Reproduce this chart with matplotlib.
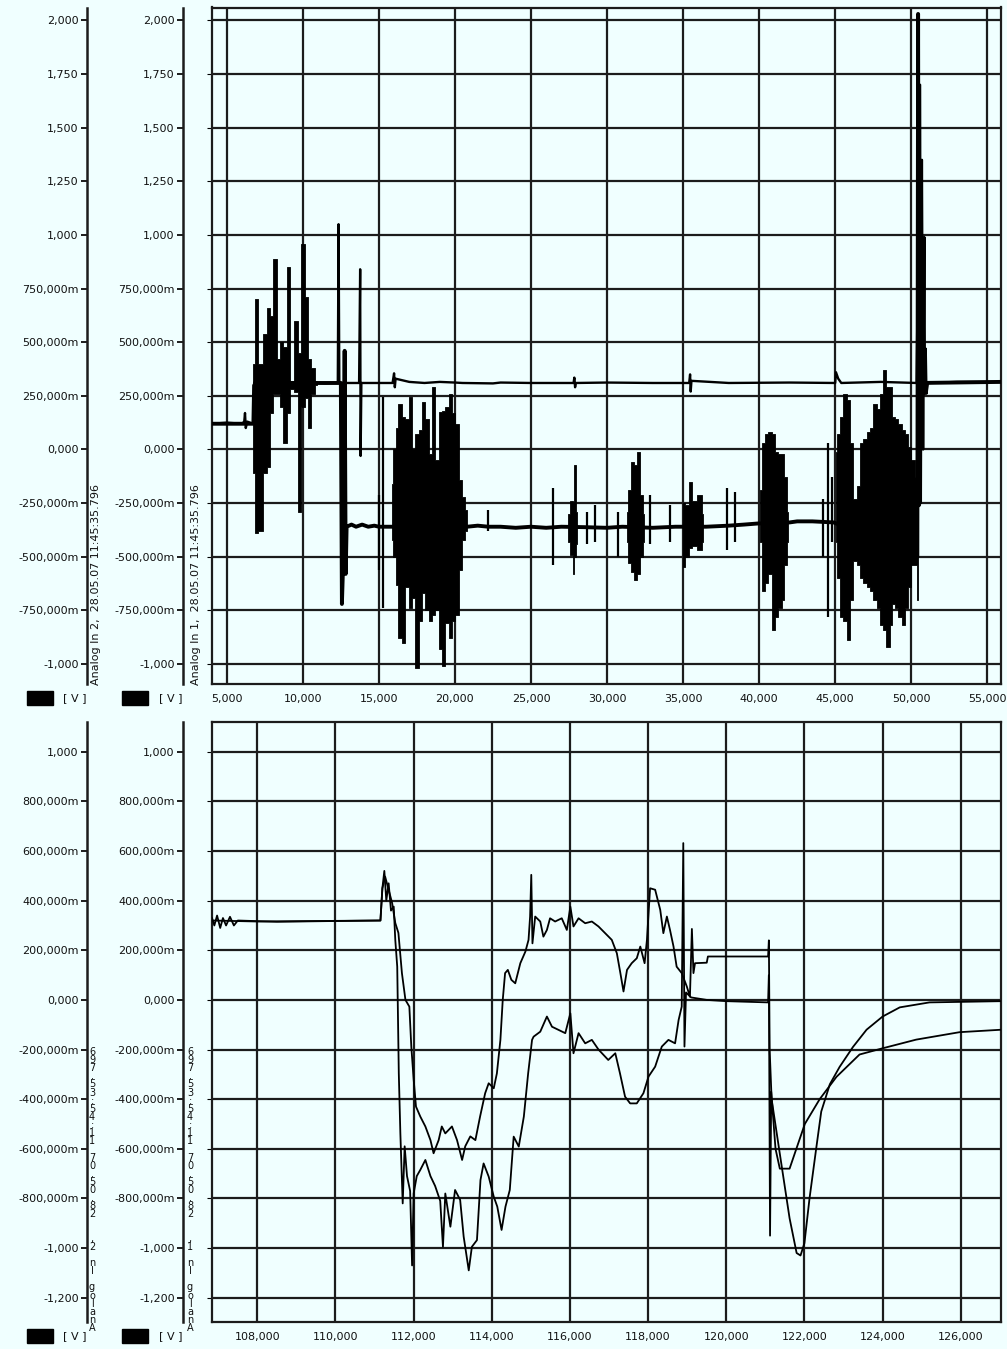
import matplotlib
matplotlib.use("Agg")
import matplotlib.pyplot as plt
from matplotlib.patches import Rectangle

BG = "#f0ffff"
INK = "#111111"

# ---------------- top panel (time in s, values in V) ----------------
TOP_XTICKS = [5, 10, 15, 20, 25, 30, 35, 40, 45, 50, 55]
TOP_YTICKS = [-1.0, -0.75, -0.5, -0.25, 0.0, 0.25, 0.5, 0.75, 1.0, 1.25, 1.5, 1.75, 2.0]

A_X = [4.03, 5.0, 6.0, 6.15, 6.2, 6.25, 6.35, 6.7, 6.75, 10.9, 11.5, 12.0, 12.30, 12.35,
       12.40, 12.45, 13.70, 13.77, 13.80, 13.85, 15.3, 15.9, 16.0, 16.05, 16.1, 17.0, 18.0,
       19.0, 20.0, 20.5, 22.5, 23.0, 25.0, 27.8, 27.85, 27.9, 27.95, 30.0, 33.0, 35.4,
       35.46, 35.5, 35.55, 38.0, 42.0, 45.0, 45.05, 45.2, 45.4, 48.0, 50.35, 50.58, 50.63,
       50.70, 50.78, 50.86, 50.90, 50.95, 51.0, 51.1, 53.0, 55.9]
A_Y = [0.12, 0.125, 0.12, 0.13, 0.17, 0.10, 0.13, 0.12, 0.30, 0.31, 0.308, 0.31, 0.31, 1.05,
       0.32, 0.31, 0.31, 0.84, -0.03, 0.31, 0.31, 0.31, 0.355, 0.29, 0.33, 0.315, 0.31,
       0.315, 0.312, 0.31, 0.308, 0.312, 0.31, 0.31, 0.335, 0.29, 0.31, 0.312, 0.31, 0.31,
       0.35, 0.27, 0.32, 0.31, 0.312, 0.31, 0.36, 0.33, 0.31, 0.315, 0.31, 1.70, -0.25,
       1.35, 0.0, 0.99, 0.26, 0.47, 0.26, 0.31, 0.315, 0.315]

B_X = [4.03, 6.8, 6.85, 10.9, 12.50, 12.57, 12.67, 12.75, 12.82, 12.88, 13.2, 13.5, 13.9,
       14.3, 14.7, 15.0, 15.8, 20.8, 21.5, 22.2, 23.0, 24.0, 25.0, 26.0, 27.0, 28.5, 30.0,
       31.0, 33.0, 34.5, 36.5, 38.0, 39.0, 39.9, 42.0, 42.5, 43.5, 44.9, 50.40, 50.45,
       50.50, 50.55, 55.9]
B_Y = [0.12, 0.12, 0.31, 0.31, 0.31, -0.72, -0.49, 0.46, -0.58, -0.36, -0.35, -0.36, -0.35,
       -0.36, -0.355, -0.36, -0.36, -0.36, -0.355, -0.36, -0.36, -0.365, -0.36, -0.365,
       -0.36, -0.362, -0.365, -0.36, -0.365, -0.36, -0.36, -0.355, -0.35, -0.345, -0.34,
       -0.335, -0.335, -0.34, -0.50, 2.03, -0.26, 0.31, 0.315]

# dense bursts: upper / lower envelope of the signal
BURST1_X = [6.75, 6.97, 7.19, 7.52, 7.74, 7.96, 8.18, 8.40, 8.62, 8.84, 9.06, 9.28, 9.60,
            9.78, 10.04, 10.26, 10.41, 10.70, 10.90]
BURST1_HI = [0.40, 0.70, 0.40, 0.54, 0.66, 0.62, 0.89, 0.42, 0.50, 0.48, 0.85, 0.32, 0.60,
             0.45, 0.96, 0.71, 0.42, 0.38, 0.32]
BURST1_LO = [-0.11, -0.39, -0.38, -0.11, -0.08, 0.17, 0.26, 0.26, 0.20, 0.03, 0.17, 0.28,
             0.27, -0.29, 0.20, 0.24, 0.10, 0.26, 0.30]

BURST2_X = [15.86, 16.03, 16.18, 16.40, 16.62, 16.84, 17.06, 17.28, 17.50, 17.72, 17.94,
            18.16, 18.38, 18.60, 18.82, 19.04, 19.25, 19.47, 19.69, 19.91, 20.13, 20.35,
            20.57, 20.79]
BURST2_HI = [-0.16, 0.0, 0.10, 0.21, 0.15, 0.14, 0.245, 0.0, 0.07, 0.09, 0.22, 0.14, -0.02,
             0.29, -0.05, 0.175, 0.18, 0.20, 0.26, 0.17, 0.12, -0.14, -0.22, -0.28]
BURST2_LO = [-0.42, -0.50, -0.63, -0.88, -0.90, -0.64, -0.74, -0.69, -1.02, -0.80, -0.67,
             -0.75, -0.80, -0.77, -0.75, -0.93, -1.01, -0.81, -0.88, -0.80, -0.77, -0.56,
             -0.42, -0.38]

BURST3_X = [27.46, 27.68, 27.79, 27.89, 28.0, 31.29, 31.51, 31.69, 31.91, 32.08, 32.26,
            32.43, 35.02, 35.24, 35.53, 35.68, 36.12, 36.34]
BURST3_HI = [-0.30, -0.24, -0.25, -0.07, -0.29, -0.29, -0.19, -0.06, -0.07, -0.01, -0.21,
             -0.30, -0.25, -0.26, -0.15, -0.24, -0.21, -0.30]
BURST3_LO = [-0.43, -0.49, -0.58, -0.50, -0.44, -0.43, -0.53, -0.57, -0.61, -0.58, -0.50,
             -0.43, -0.55, -0.50, -0.46, -0.45, -0.47, -0.43]
BURST3_GROUP = [0, 0, 0, 0, 0, 1, 1, 1, 1, 1, 1, 1, 2, 2, 2, 2, 2, 2]

BURST4_X = [40.07, 40.28, 40.50, 40.72, 40.94, 41.16, 41.38, 41.60, 41.71, 41.92]
BURST4_HI = [-0.19, 0.03, 0.07, 0.08, 0.07, -0.01, -0.02, -0.02, -0.13, -0.29]
BURST4_LO = [-0.43, -0.66, -0.62, -0.58, -0.84, -0.78, -0.74, -0.70, -0.54, -0.43]

BURST5_X = [45.03, 45.20, 45.42, 45.64, 45.86, 46.08, 46.30, 46.52, 46.73, 46.95, 47.17,
            47.39, 47.61, 47.83, 48.05, 48.26, 48.48, 48.66, 48.81, 49.03, 49.25, 49.47,
            49.69, 49.90, 50.12, 50.34, 50.45]
BURST5_HI = [-0.01, 0.07, 0.15, 0.26, 0.23, 0.03, -0.23, -0.17, 0.03, 0.05, 0.08, 0.10,
             0.21, 0.19, 0.26, 0.37, 0.29, 0.29, 0.15, 0.14, 0.12, 0.09, 0.07, 0.01, -0.05,
             -0.13, -0.33]
BURST5_LO = [-0.43, -0.60, -0.78, -0.80, -0.89, -0.70, -0.52, -0.54, -0.60, -0.62, -0.64,
             -0.66, -0.70, -0.74, -0.82, -0.84, -0.92, -0.82, -0.72, -0.74, -0.78, -0.82,
             -0.74, -0.64, -0.54, -0.54, -0.70]

SPIKE_X = [15.0, 15.3, 22.19, 26.43, 28.66, 29.2, 30.75, 32.83, 34.14, 37.9, 38.4, 44.22,
           44.55, 44.77]
SPIKE_HI = [-0.21, 0.245, -0.28, -0.18, -0.29, -0.26, -0.29, -0.21, -0.26, -0.18, -0.20,
            -0.23, 0.03, -0.13]
SPIKE_LO = [-0.56, -0.74, -0.38, -0.54, -0.44, -0.43, -0.50, -0.44, -0.43, -0.47, -0.43,
            -0.50, -0.78, -0.43]

# ---------------- bottom panel ----------------
BOT_XTICKS = [108, 110, 112, 114, 116, 118, 120, 122, 124, 126]
BOT_YTICKS = [-1.2, -1.0, -0.8, -0.6, -0.4, -0.2, 0.0, 0.2, 0.4, 0.6, 0.8, 1.0]

C_X = [106.84, 106.90, 106.97, 107.05, 107.12, 107.20, 107.30, 107.40, 107.50, 108.50,
       110.00, 111.15, 111.20, 111.25, 111.30, 111.36, 111.42, 111.49, 111.53, 111.58,
       111.62, 111.66, 111.72, 111.77, 111.83, 111.91, 111.96, 112.00, 112.08, 112.17,
       112.30, 112.43, 112.55, 112.68, 112.75, 112.81, 112.94, 113.06, 113.19, 113.28,
       113.41, 113.49, 113.62, 113.71, 113.79, 113.92, 114.05, 114.14, 114.25, 114.35,
       114.46, 114.56, 114.69, 114.82, 114.93, 115.03, 115.07, 115.24, 115.41, 115.54,
       115.71, 115.88, 116.01, 116.09, 116.22, 116.39, 116.56, 116.73, 116.98, 117.16,
       117.28, 117.41, 117.54, 117.71, 117.88, 118.01, 118.18, 118.35, 118.52, 118.69,
       118.78, 118.86, 118.90, 118.93, 118.97, 119.10, 119.50, 120.00, 121.07, 121.09,
       121.12, 121.15, 121.26, 121.37, 121.62, 121.75, 122.01, 122.39, 122.82, 123.41,
       124.00, 124.86, 125.97, 127.05]
C_Y = [0.33, 0.30, 0.34, 0.29, 0.33, 0.30, 0.335, 0.30, 0.32, 0.315, 0.318, 0.32, 0.45,
       0.52, 0.40, 0.47, 0.36, 0.376, 0.242, 0.134, -0.296, -0.538, -0.82, -0.59, -0.71,
       -0.77, -1.07, -0.78, -0.71, -0.685, -0.645, -0.71, -0.75, -0.81, -0.995, -0.78,
       -0.914, -0.766, -0.806, -0.954, -1.09, -0.995, -0.968, -0.726, -0.659, -0.712,
       -0.793, -0.833, -0.927, -0.833, -0.766, -0.551, -0.591, -0.47, -0.296, -0.161,
       -0.148, -0.128, -0.067, -0.108, -0.121, -0.134, -0.054, -0.215, -0.134, -0.175,
       -0.161, -0.20, -0.242, -0.215, -0.296, -0.39, -0.417, -0.417, -0.376, -0.309,
       -0.269, -0.188, -0.161, -0.175, -0.081, -0.027, 0.632, -0.188, 0.03, 0.01, 0.0,
       -0.005, -0.01, 0.10, -0.95, -0.37, -0.60, -0.68, -0.68, -0.62, -0.50, -0.40, -0.31,
       -0.22, -0.195, -0.16, -0.13, -0.12]

D_X = [106.84, 108.0, 111.15, 111.20, 111.27, 111.36, 111.45, 111.53, 111.61, 111.70,
       111.79, 111.89, 111.94, 112.00, 112.06, 112.17, 112.30, 112.43, 112.51, 112.64,
       112.72, 112.81, 112.98, 113.11, 113.24, 113.32, 113.45, 113.58, 113.70, 113.83,
       113.92, 114.05, 114.13, 114.22, 114.28, 114.34, 114.41, 114.50, 114.60, 114.73,
       114.86, 114.94, 114.98, 115.01, 115.04, 115.11, 115.24, 115.32, 115.41, 115.49,
       115.62, 115.79, 115.92, 116.01, 116.09, 116.22, 116.39, 116.56, 116.73, 116.90,
       117.07, 117.20, 117.29, 117.37, 117.46, 117.58, 117.71, 117.80, 117.91, 117.97,
       118.05, 118.18, 118.31, 118.39, 118.48, 118.56, 118.65, 118.73, 118.86, 118.99,
       119.07, 119.12, 119.16, 119.20, 119.50, 119.53, 121.07, 121.09, 121.11, 121.16,
       121.37, 121.62, 121.80, 121.90, 122.00, 122.13, 122.30, 122.43, 122.65, 122.90,
       123.24, 123.59, 124.00, 124.44, 125.20, 127.05]
D_Y = [0.32, 0.316, 0.32, 0.45, 0.497, 0.444, 0.39, 0.31, 0.27, 0.108, 0.0, -0.027, -0.188,
       -0.32, -0.43, -0.47, -0.51, -0.565, -0.618, -0.565, -0.51, -0.538, -0.51, -0.565,
       -0.645, -0.59, -0.55, -0.565, -0.47, -0.376, -0.336, -0.356, -0.296, -0.161, 0.0,
       0.108, 0.121, 0.081, 0.067, 0.148, 0.195, 0.242, 0.336, 0.504, 0.228, 0.336, 0.316,
       0.255, 0.282, 0.329, 0.316, 0.329, 0.282, 0.376, 0.296, 0.329, 0.309, 0.316, 0.296,
       0.269, 0.242, 0.188, 0.108, 0.034, 0.121, 0.148, 0.168, 0.215, 0.148, 0.242, 0.45,
       0.444, 0.363, 0.269, 0.336, 0.282, 0.215, 0.134, 0.108, 0.054, 0.013, 0.286, 0.108,
       0.148, 0.15, 0.175, 0.175, 0.24, -0.20, -0.40, -0.62, -0.88, -1.02, -1.03, -0.98,
       -0.80, -0.60, -0.45, -0.34, -0.27, -0.19, -0.12, -0.067, -0.03, -0.01, -0.005]

LABEL_OUTER = "Analog In 2,  28.05.07 11:45:35.796"
LABEL_INNER = "Analog In 1,  28.05.07 11:45:35.796"


def fmt_volt(v):
    if abs(v) < 0.999 and abs(v) > 1e-9:
        return f"{v * 1000:.3f}m".replace(".", ",")
    return f"{v:.3f}".replace(".", ",")


def fmt_time(v):
    return f"{v:.3f}".replace(".", ",")


W, H = 1007, 1349


def fx(px):
    return px / W


def fy(py):
    return 1 - py / H


def make_panel(rect, xlim, ylim, xticks, yticks):
    ax = fig.add_axes(rect)
    ax.set_facecolor(BG)
    ax.set_xlim(xlim)
    ax.set_ylim(ylim)
    ax.set_xticks(xticks, [fmt_time(v) for v in xticks])
    ax.set_yticks(yticks)
    ax.tick_params(axis="x", length=0, pad=7, labelsize=8, labelcolor=INK)
    ax.tick_params(axis="y", left=False, labelleft=False)
    ax.grid(True, color="#1c1c1c", lw=1.6)
    ax.set_axisbelow(True)
    for s in ax.spines.values():
        s.set_linewidth(1.6)
        s.set_color("#1c1c1c")
    # two value axes on the left, one per channel
    for off in (-0.1584, -0.0368):
        tw = ax.twinx()
        tw.set_ylim(ylim)
        tw.yaxis.tick_left()
        for name, s in tw.spines.items():
            s.set_visible(name == "left")
        tw.spines["left"].set_position(("axes", off))
        tw.spines["left"].set_linewidth(1.8)
        tw.spines["left"].set_color("#1c1c1c")
        tw.set_yticks(yticks, [fmt_volt(v) for v in yticks])
        tw.tick_params(axis="y", direction="out", length=4, width=1.4, pad=2,
                       labelsize=8, labelcolor=INK, color="#1c1c1c")
    return ax


fig = plt.figure(figsize=(W / 100, H / 100), dpi=100, facecolor=BG)

# top panel
ax1 = make_panel([fx(212), fy(684), fx(1001) - fx(212), (684 - 7.5) / H],
                 (4.03, 55.9), (-1.093, 2.06), TOP_XTICKS, TOP_YTICKS)
kw = dict(color="black", lw=0.6, step="mid", zorder=3)
ax1.fill_between(BURST1_X, BURST1_LO, BURST1_HI, **kw)
ax1.fill_between(BURST2_X, BURST2_LO, BURST2_HI, **kw)
for g in (0, 1, 2):
    idx = [i for i, v in enumerate(BURST3_GROUP) if v == g]
    ax1.fill_between([BURST3_X[i] for i in idx], [BURST3_LO[i] for i in idx],
                     [BURST3_HI[i] for i in idx], **kw)
ax1.fill_between(BURST4_X, BURST4_LO, BURST4_HI, **kw)
ax1.fill_between(BURST5_X, BURST5_LO, BURST5_HI, **kw)
ax1.vlines(SPIKE_X, SPIKE_LO, SPIKE_HI, color="black", lw=1.6, zorder=3)
ax1.plot(B_X, B_Y, color="black", lw=2.8, zorder=4)
ax1.plot(A_X, A_Y, color="black", lw=1.7, zorder=4)

# bottom panel
ax2 = make_panel([fx(212), fy(1322), fx(1001) - fx(212), (1322 - 722) / H],
                 (106.84, 127.03), (-1.298, 1.12), BOT_XTICKS, BOT_YTICKS)
ax2.plot(C_X, C_Y, color="black", lw=1.3, zorder=4)
ax2.plot(D_X, D_Y, color="black", lw=1.3, zorder=4)

# channel labels, top panel: rotated text next to each value axis
for x_px, lab in ((96, LABEL_OUTER), (196, LABEL_INNER)):
    fig.text(fx(x_px), fy(685), lab, rotation=90, ha="center", va="bottom",
             fontsize=8, color=INK)

# channel labels, bottom panel: characters stacked upright
step = (1328 - 1052) / (len(LABEL_OUTER) - 1)
for x_px, lab in ((92, LABEL_OUTER), (190, LABEL_INNER)):
    for i, ch in enumerate(lab):
        fig.text(fx(x_px), fy(1328 - i * step), ch, ha="center", va="center",
                 fontsize=7, color=INK)

# unit swatches under each value axis
for py in (698, 1336):
    for x0, xt in ((27, 63), (122, 159)):
        fig.patches.append(Rectangle((fx(x0), fy(py + 7)), fx(26), 14 / H,
                                     transform=fig.transFigure, color="black"))
        fig.text(fx(xt), fy(py), "[ V ]", ha="left", va="center", fontsize=8,
                 color=INK)

fig.savefig("out.png", dpi=100, facecolor=BG)
